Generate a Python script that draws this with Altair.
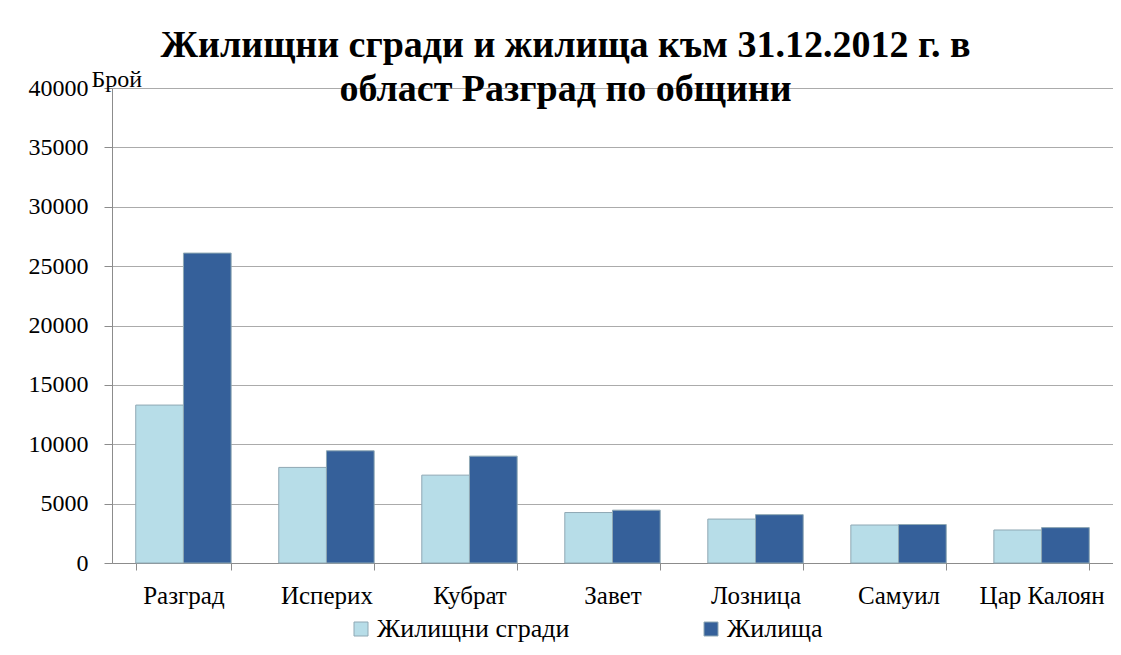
import altair as alt
import pandas as pd

municipalities = ["Разград", "Исперих", "Кубрат", "Завет", "Лозница", "Самуил", "Цар Калоян"]
buildings = [13300, 8050, 7400, 4250, 3700, 3200, 2780]
dwellings = [26100, 9450, 9000, 4450, 4070, 3240, 2980]
series_names = ["Жилищни сгради", "Жилища"]
colors = ["#B7DDE8", "#35609A"]
y_ticks = [0, 5000, 10000, 15000, 20000, 25000, 30000, 35000, 40000]

rows = []
for m, b, d in zip(municipalities, buildings, dwellings):
    rows.append({"Община": m, "Серия": series_names[0], "Брой": b})
    rows.append({"Община": m, "Серия": series_names[1], "Брой": d})
df = pd.DataFrame(rows)

FONT = "Liberation Serif, Times New Roman, DejaVu Serif, serif"

chart = alt.Chart(df).mark_bar(stroke="#8FA8B4", strokeWidth=1).encode(
    x=alt.X("Община:N", sort=municipalities,
            scale=alt.Scale(paddingInner=0.333, paddingOuter=0.166),
            axis=alt.Axis(title=None, labelAngle=0, labelFont=FONT, labelFontSize=25,
                          labelColor="#000000", labelPadding=13, tickBand="extent",
                          tickSize=7, tickColor="#8C8C8C", domainColor="#8C8C8C",
                          labelLimit=0, grid=False)),
    xOffset=alt.XOffset("Серия:N", sort=series_names),
    y=alt.Y("Брой:Q", scale=alt.Scale(domain=[0, 40000], nice=False),
            axis=alt.Axis(values=y_ticks, format="d", labelFont=FONT, labelFontSize=24,
                          labelColor="#000000", labelPadding=16, tickSize=8,
                          tickColor="#8C8C8C", domainColor="#8C8C8C",
                          gridColor="#ABABAB", title="Брой", titleAngle=0,
                          titleFont=FONT, titleFontSize=24, titleFontWeight="normal",
                          titleColor="#000000", titleAlign="left",
                          titleBaseline="alphabetic", titleX=-21, titleY=-2)),
    color=alt.Color("Серия:N", sort=series_names,
                    scale=alt.Scale(domain=series_names, range=colors),
                    legend=alt.Legend(title=None, orient="none", direction="horizontal",
                                      legendX=236, legendY=528, symbolType="square",
                                      symbolSize=196, symbolStrokeColor="#8FA8B4",
                                      symbolStrokeWidth=1, labelFont=FONT,
                                      labelFontSize=26, labelColor="#000000",
                                      labelOffset=3, labelLimit=0, columnPadding=128)),
).properties(
    width=1001,
    height=475,
    title=alt.TitleParams(
        text=["Жилищни сгради и жилища към 31.12.2012 г. в", "област Разград по общини"],
        font=FONT, fontSize=38, fontWeight="bold", color="#000000",
        anchor="middle", orient="top", baseline="bottom", offset=0, dy=80, dx=-47,
        lineHeight=44,
    ),
    autosize=alt.AutoSizeParams(type="none"),
    padding={"left": 104, "top": 80, "right": 0, "bottom": 80},
).configure(background="#FFFFFF").configure_view(stroke=None)

chart.save("out.html", embed_options={"renderer": "svg", "actions": False})
